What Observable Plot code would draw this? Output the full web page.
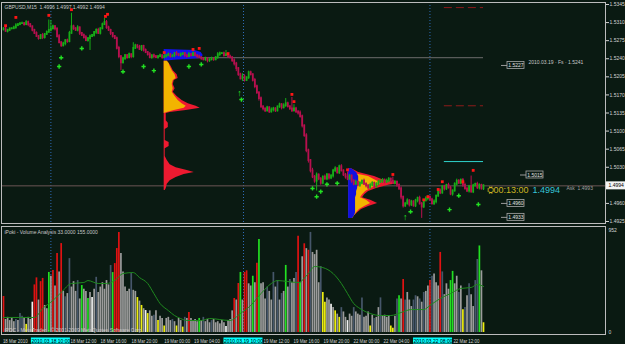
<!DOCTYPE html>
<html><head><meta charset="utf-8">
<script src="https://cdn.jsdelivr.net/npm/d3@7"></script>
<script src="https://cdn.jsdelivr.net/npm/@observablehq/plot@0.6"></script>
<style>
html,body{margin:0;padding:0;background:#0a1a12;overflow:hidden}
#chart{position:relative;width:625px;height:344px;background:#0a1a12}
#chart svg{position:absolute;left:0;top:0}
</style></head><body><div id="chart"></div>
<script>
// ---------------- DATA ----------------
const symbolTitle = "GBPUSD,M15  1.4996 1.4997 1.4992 1.4994";
const volumeTitle = "iPoki - Volume Analysis 33.0000 155.0000";
const copyright = "iPDC - MetaTrader - \u00a9 2001-2009 MetaQuotes Software Corp.";
const firstOpen = 1.5296;
const closes = [
1.5298,1.5293,1.5295,1.5298,1.5298,1.5300,1.5304,1.5306,1.5308,1.5308,
1.5306,1.5310,1.5306,1.5302,1.5295,1.5289,1.5283,1.5279,1.5285,1.5281,
1.5287,1.5291,1.5295,1.5298,1.5302,1.5298,1.5283,1.5271,1.5265,1.5269,
1.5275,1.5273,1.5289,1.5302,1.5298,1.5295,1.5300,1.5289,1.5285,1.5281,
1.5275,1.5279,1.5283,1.5285,1.5291,1.5295,1.5289,1.5298,1.5306,1.5310,
1.5300,1.5295,1.5289,1.5283,1.5279,1.5260,1.5244,1.5232,1.5240,1.5246,
1.5242,1.5248,1.5244,1.5260,1.5265,1.5262,1.5258,1.5264,1.5256,1.5252,
1.5248,1.5242,1.5246,1.5244,1.5242,1.5244,1.5246,1.5242,1.5244,1.5246,
1.5248,1.5244,1.5246,1.5250,1.5248,1.5246,1.5248,1.5250,1.5246,1.5244,
1.5248,1.5246,1.5250,1.5246,1.5244,1.5242,1.5240,1.5238,1.5240,1.5236,
1.5238,1.5240,1.5238,1.5242,1.5248,1.5250,1.5250,1.5246,1.5248,1.5244,
1.5242,1.5236,1.5230,1.5221,1.5209,1.5201,1.5205,1.5198,1.5203,1.5213,
1.5209,1.5198,1.5186,1.5174,1.5163,1.5147,1.5143,1.5139,1.5145,1.5137,
1.5141,1.5143,1.5139,1.5147,1.5151,1.5145,1.5149,1.5153,1.5147,1.5143,
1.5139,1.5143,1.5137,1.5135,1.5128,1.5110,1.5091,1.5062,1.5043,1.5023,
1.5011,1.5003,1.5015,1.5007,1.4999,1.5011,1.5007,1.5015,1.5009,1.5013,
1.5023,1.5027,1.5019,1.5031,1.5023,1.5015,1.5011,1.5007,1.5013,1.5003,
1.4997,1.5001,1.4995,1.4999,1.5003,1.4997,1.4994,1.4990,1.4995,1.4999,
1.4992,1.4997,1.5001,1.5003,1.5005,1.5001,1.5003,1.5007,1.5003,1.4999,
1.5001,1.4995,1.4988,1.4972,1.4955,1.4959,1.4965,1.4957,1.4963,1.4955,
1.4965,1.4970,1.4959,1.4953,1.4965,1.4969,1.4972,1.4967,1.4959,1.4963,
1.4974,1.4984,1.4980,1.4992,1.4988,1.4995,1.4990,1.4978,1.4984,1.4997,
1.5003,1.4999,1.5005,1.4995,1.4988,1.4984,1.4992,1.4982,1.4994,1.4997,
1.4990,1.4995,1.4988,1.4994];
// wick lengths beyond the candle body, in pips
const hiWick = [
2,3,2,1,2,3,4,2,1,3,2,4,3,2,1,2,3,2,1,4,
2,3,20,16,3,2,1,4,2,3,2,3,4,26,3,2,4,1,2,3,
4,2,3,2,1,3,4,2,3,8,4,3,2,1,2,3,4,2,3,2,
2,3,1,11,3,2,4,1,2,3,2,4,1,3,2,2,3,1,4,2,
3,2,1,2,4,2,3,1,2,3,4,2,3,1,2,3,2,1,3,2,
2,3,1,2,4,3,2,3,8,2,3,2,4,3,2,3,6,4,2,3,
3,2,4,3,2,3,2,1,3,2,4,3,2,1,3,2,4,10,3,2,
22,8,3,2,4,3,2,4,3,2,5,3,4,2,3,2,4,3,2,3,
3,4,2,3,4,2,3,10,3,2,3,4,2,3,2,4,3,2,4,3,
2,3,4,2,3,2,4,3,2,8,3,2,3,4,2,3,4,2,3,2,
3,2,4,3,2,4,3,2,3,4,2,3,4,2,3,2,4,3,2,3,
4,3,2,3,4,2,3,21,3,2,4,3,2,2];
const loWick = [
2,1,3,2,2,1,3,2,2,1,3,2,4,2,3,2,1,3,2,4,
3,2,1,3,2,4,3,2,3,2,4,3,2,1,3,2,3,4,2,3,
2,3,23,2,3,4,2,3,2,1,3,2,4,3,2,3,4,15,2,3,
3,2,4,3,2,3,2,4,3,2,3,2,3,4,2,3,2,3,2,3,
2,3,2,4,3,2,3,2,4,3,2,3,2,3,4,2,3,2,3,4,
3,2,3,2,3,4,2,3,2,3,2,3,4,6,3,2,5,3,2,3,
2,3,4,3,5,3,4,3,2,3,2,4,3,2,3,4,2,3,2,3,
3,2,3,4,3,4,3,4,5,4,3,4,19,3,4,3,2,3,4,3,
4,3,2,3,2,3,4,3,2,4,3,2,3,4,3,2,4,3,2,3,
3,2,3,2,4,3,2,3,4,2,3,4,3,5,4,3,2,4,3,2,
3,4,2,22,3,2,4,3,2,3,4,2,3,2,4,3,2,3,4,2,
3,2,3,4,2,3,4,2,3,2,3,4,2,3];
const volumes = [
333,120,140,110,130,100,120,110,175,150,
130,75,140,120,280,440,505,300,470,500,
250,220,555,520,573,430,730,560,822,380,
330,360,683,420,470,380,480,310,434,400,
380,314,370,323,400,510,370,420,460,400,
480,440,619,554,637,776,924,730,560,420,
380,400,545,390,380,323,290,250,220,203,
175,200,150,160,200,110,150,130,60,130,
140,110,120,100,60,130,110,50,140,130,
185,130,110,120,100,130,110,140,100,120,
90,110,120,90,100,80,110,90,55,110,
120,200,314,300,453,555,300,555,570,450,
430,520,460,640,860,450,460,310,420,380,
300,555,420,480,300,360,380,620,420,490,
460,500,555,890,460,700,820,775,760,925,
740,720,760,460,610,370,280,320,300,260,
230,200,170,140,230,190,140,110,170,150,
230,190,170,160,320,140,150,190,60,160,
130,140,230,320,150,160,140,150,60,40,
150,310,340,310,490,300,370,300,240,300,
340,330,310,280,370,380,430,480,520,540,
460,430,740,560,350,450,400,480,565,450,
520,370,430,210,230,340,450,350,240,480,
675,800,570,90];
// r=red, g=green, y=yellow, w=white, s=grey, d=dark slate
const volumeKinds = ("rsssssdsdd sysswrrsrr ssgsrsrsrs dsdsssdsgs sgswsdssss ssdgrrrsss ssdssysysw " +
  "yssdsyssys ssdsyssyds rssssgsdss sdssssssws ssrsrgsrrs sgsrgsssds sdsdsdsgsd ssdrgsrsrd " +
  "ssssdyyssw sysydsswss dsssdsssys dssdssssyy sdgsrdsssd dsdsdssrds ssrdsssggs sdsydsdssd dgsy").replace(/ /g, "");
const maBar = [0,15,19,24,28,33,39,41,46,50,54,58,63,66,70,73,76,80,83,86,89,96,100,110,115,120,125,130,133,138,143,148,151,155,160,164,167,170,173,178,183,188,193,198,204,207,212,217,222,227,230,233];
const maValue = [139,139,222,296,370,453,462,480,453,453,480,545,554,508,453,360,268,203,157,129,111,111,129,111,176,250,360,453,480,471,462,545,610,600,545,453,360,268,222,176,157,157,185,212,212,250,314,360,407,416,444,425];

const priceTicks = [1.5345,1.5310,1.5275,1.5240,1.5205,1.5170,1.5135,1.5100,1.5065,1.5030,1.4960,1.4925];
const lastPrice = 1.4994;
const fsLevel = 1.5242;
const dashedLevels = [1.5339, 1.5149];
const cyanLevel = 1.5041;
const boxLevels = [1.5227, 1.5015, 1.4960, 1.4933];
const fsText = "2010.03.19 \u00b7 Fs \u00b7 1.5241";
const timerText = "\u26ed00:13:00";
const timerPrice = "1.4994";
const spreadText = "Ask  1.4993";
const volumeMaxLabel = "952";
const volumeMinLabel = "0";

const timeLabelText = ["18 Mar 2010","18 Mar 12:00","18 Mar 16:00","18 Mar 20:00","19 Mar 00:00","19 Mar 04:00","19 Mar 12:00","19 Mar 16:00","19 Mar 20:00","22 Mar 00:00","22 Mar 04:00","22 Mar 12:00"];
const timeLabelBar = [-0.3,32.5,47.1,62.1,78,92.5,126.2,140.8,155.3,169.9,184.5,218.4];
const cursorBar = [23, 116.5, 207];
const cursorBoxBar = [23, 116.5, 208.5];
const cursorText = ["2010.03.18 10:00","2010.03.19 10:00","2010.03.22 08:00"];

// market profiles (price level, width in bars)
const profile1Anchor = 78;
const profile1Price = [1.5235,1.5231,1.5225,1.5217,1.5209,1.5202,1.5198,1.5190,1.5182,1.5175,1.5167,1.5159,1.5153,1.5148,1.5144,1.5140,1.5136,1.5134,1.5120,1.5115,1.5107,1.5103,1.5082,1.5078,1.5070,1.5066,1.5051,1.5043,1.5035,1.5029,1.5024,1.5020,1.5016,1.5010,1.5004,1.4997,1.4989,1.4985];
const profile1Total = [1.5,2.4,3.4,4.4,6.3,6.8,4.9,4.4,5.3,4.4,6.3,8.7,11.7,15.5,17.5,10.7,2.9,1,1,2,2,0.5,0.5,2.4,2.4,0.5,0.5,1.5,2.9,5.8,10.7,14.6,9.7,5.8,2.9,1.5,1,0.5];
const profile1Value = [1.5,2.4,2.9,3.9,5.3,5.8,4.4,3.9,4.4,3.9,5.3,6.8,8.7,10.7,9.7,4.9,1.5,0,0,0,0,0,0,0,0,0,0,0,0,0,0,0,0,0,0,0,0,0];
const profile1BluePrice = [1.5258,1.5256,1.5252,1.5246,1.5240,1.5237,1.5235];
const profile1BlueWidth = [0,15,18,19,17,5,0];
const profile2Anchor = 167.5;
const profile2Price = [1.5027,1.5020,1.5012,1.5006,1.5002,1.4998,1.4995,1.4989,1.4983,1.4977,1.4971,1.4966,1.4960,1.4954,1.4948,1.4942,1.4936,1.4931];
const profile2Total = [1.5,4.9,12.6,16.5,21.4,23.8,19.4,13.6,9.7,7.8,6.8,10.7,14.1,9.7,6.3,4.4,2.9,1.9];
const profile2Value = [0,0,9.7,12.6,14.6,15.5,14.6,10.7,8.3,6.8,5.8,8.7,10.7,7.8,5.3,3.9,2.9,1.9];
const profile2Blue = [1.5,3.9,4.9,4.9,4.9,4.4,4.4,4.4,3.9,3.9,3.4,3.4,3.4,3.4,3.4,3.4,2.9,1.9];

// fractal / signal markers
const upFractalBar = [1,6,22,33,49.5,50.5,78,92,95,109,140,141,167,189,204,206,211,213,223,228];
const upFractalPrice = [1.5304,1.5320,1.5324,1.5335,1.5322,1.5326,1.5252,1.5258,1.5260,1.5250,1.5171,1.5157,1.5025,1.5016,1.4967,1.4973,1.4987,1.5002,1.5002,1.5024];
const downFractalBar = [27,28,38,58,68,73,90,96,115.5,150,152,154,157,162,197.6,216.5,221,230.5];
const downFractalPrice = [1.5225,1.5242,1.5260,1.5215,1.5225,1.5217,1.5225,1.5229,1.5161,1.4989,1.4973,1.4983,1.4997,1.4999,1.4944,1.4948,1.4975,1.4958];
const arrowBar = [114.5, 195];
const arrowPrice = [1.5173, 1.4933];

// ---------------- BUILD ----------------
const N = closes.length;
const xDomain = [0, N - 1], xRange = [3, 483];
const priceDomain = [1.4925, 1.5345], priceRange = [221, 4];
const xBar = d3.scaleLinear(xDomain, xRange);
const yPx = d3.scaleLinear(priceDomain, priceRange);
const FONT = "'Liberation Sans',Arial,sans-serif";
const BG = "#0a1a12";
const UP = "#17ad17", DN = "#b8104f";
const volColor = {r:"#e01212", g:"#22e022", y:"#eeee10", w:"#f2f2f2", s:"#9c9c9c", d:"#46566a"};

const bars = closes.map((c, i) => {
  const o = i ? closes[i - 1] : firstOpen;
  return {i, o, c, hi: Math.max(o, c) + hiWick[i] * 1e-4, lo: Math.min(o, c) - loWick[i] * 1e-4, up: c >= o};
});
const vols = volumes.map((v, i) => ({i, v, k: volumeKinds[i]}));
const ma = maBar.map((b, j) => ({i: b, v: maValue[j]}));
const p1 = profile1Price.map((p, j) => ({p, t: profile1Total[j], v: profile1Value[j]}));
const p1b = profile1BluePrice.map((p, j) => ({p, w: profile1BlueWidth[j]}));
const p2 = profile2Price.map((p, j) => ({p, t: profile2Total[j], v: profile2Value[j], b: profile2Blue[j]}));
const upF = upFractalBar.map((b, j) => ({i: b, p: upFractalPrice[j]}));
const dnF = downFractalBar.map((b, j) => ({i: b, p: downFractalPrice[j]}));
const arrows = arrowBar.map((b, j) => ({i: b, p: arrowPrice[j]}));

const common = {width: 625, height: 344, color: {type: "identity"},
  style: {background: "transparent", overflow: "visible", fontFamily: FONT, fontSize: "5px"}};

const pricePlot = Plot.plot({
  ...common,
  marginTop: 2, marginLeft: 1, marginRight: 20, marginBottom: 344 - 223,
  x: {domain: xDomain, range: xRange, axis: null},
  y: {domain: priceDomain, range: priceRange, axis: null},
  marks: [
    Plot.ruleX(cursorBar, {stroke: "#2e6cb8", strokeDasharray: "1,2"}),
    Plot.ruleY([lastPrice], {stroke: "#6b5454"}),
    Plot.ruleY([fsLevel], {x1: profile1Anchor, x2: N - 1, stroke: "#6c6c6c"}),
    Plot.ruleY(dashedLevels, {x1: 214, x2: N - 1, stroke: "#8e1a1a", strokeDasharray: "8,4"}),
    Plot.ruleY([cyanLevel], {x1: 214, x2: N - 1, stroke: "#2fd4cc"}),
    // profile 1
    Plot.areaX(p1b, {y: "p", x1: profile1Anchor, x2: d => profile1Anchor + d.w, fill: "#1212ee"}),
    Plot.areaX(p1, {y: "p", x1: profile1Anchor, x2: d => profile1Anchor + d.t, fill: "#ee1a30"}),
    Plot.areaX(p1, {y: "p", x1: profile1Anchor, x2: d => profile1Anchor + d.v, fill: "#f2b400"}),
    // profile 2
    Plot.areaX(p2, {y: "p", x1: profile2Anchor, x2: d => profile2Anchor + d.t, fill: "#ee1a30"}),
    Plot.areaX(p2, {y: "p", x1: profile2Anchor, x2: d => profile2Anchor + d.v, fill: "#f2b400"}),
    Plot.areaX(p2, {y: "p", x1: profile2Anchor, x2: d => profile2Anchor + d.b, fill: "#1010e0"}),
    // candles
    Plot.ruleX(bars, {x: "i", y1: "lo", y2: "hi", stroke: d => d.up ? UP : DN, strokeWidth: 1}),
    Plot.ruleX(bars, {x: "i", y1: "o", y2: "c", stroke: d => d.up ? UP : DN, strokeWidth: 1.8, strokeLinecap: "square"}),
    Plot.dot(upF, {x: "i", y: "p", symbol: "square", r: 1.6, fill: "#ff1515"}),
    Plot.dot(dnF, {x: "i", y: "p", symbol: "cross", r: 1.8, fill: "#22e022"}),
    Plot.text(arrows, {x: "i", y: "p", text: () => "\u2191", fill: "#22e022", fontSize: 9, fontWeight: "bold"}),
    Plot.frame({stroke: "#bcbcbc"}),
    Plot.axisY({anchor: "right", ticks: priceTicks, tickFormat: d3.format(".4f"), tickSize: 3, tickPadding: 1, fontSize: 5, color: "#d4d4d4"})
  ]
});

const volumePlot = Plot.plot({
  ...common,
  marginTop: 226, marginLeft: 1, marginRight: 20, marginBottom: 10,
  x: {domain: xDomain, range: xRange, axis: null},
  y: {domain: [0, 952], range: [332, 229], axis: null},
  marks: [
    Plot.ruleX(cursorBar, {stroke: "#2e6cb8", strokeDasharray: "1,2"}),
    Plot.ruleX(vols, {x: "i", y1: 0, y2: "v", stroke: d => volColor[d.k], strokeWidth: 1.7}),
    Plot.line(ma, {x: "i", y: "v", stroke: "#1f8a1f", strokeWidth: 1, curve: "monotone-x"}),
    Plot.frame({stroke: "#bcbcbc"})
  ]
});

// chrome layer in page pixels
const boxes = boxLevels.map((p, j) => ({x: [507, 526, 507, 507][j], y: yPx(p), t: d3.format(".4f")(p)}));
const timeLabels = timeLabelText.map((t, j) => ({x: xBar(timeLabelBar[j]), t}));
const cursors = cursorText.map((t, j) => ({x: xBar(cursorBoxBar[j]), t}));
const chromePlot = Plot.plot({
  ...common,
  margin: 0,
  x: {domain: [0, 625], range: [0, 625], axis: null},
  y: {domain: [0, 344], range: [0, 344], axis: null},
  marks: [
    Plot.text([symbolTitle], {x: 4, y: 6.5, textAnchor: "start", fill: "#c8c8c8"}),
    Plot.text([volumeTitle], {x: 4, y: 231.5, textAnchor: "start", fill: "#c8c8c8"}),
    Plot.text([copyright], {x: 4, y: 329.5, textAnchor: "start", fill: "#c8c8c8"}),
    Plot.text([volumeMaxLabel], {x: 608, y: 229.5, textAnchor: "start", fill: "#d4d4d4"}),
    Plot.text([volumeMinLabel], {x: 608, y: 332, textAnchor: "start", fill: "#d4d4d4"}),
    Plot.text(timeLabels, {x: "x", y: 340.5, text: "t", textAnchor: "start", fill: "#d4d4d4", className: "tl"}),
    Plot.rect(cursors, {x1: d => d.x - 19.5, x2: d => d.x + 19.5, y1: 337.5, y2: 343.5, fill: "#00ffff"}),
    Plot.text(cursors, {x: "x", y: 340.5, text: "t", fill: "#000"}),
    Plot.ruleY(boxes, {y: "y", x1: d => d.x - 6, x2: "x", stroke: "#9a9a9a"}),
    Plot.rect(boxes, {x1: "x", x2: d => d.x + 17, y1: d => d.y - 3.5, y2: d => d.y + 3.5, fill: BG, stroke: "#a8a8a8", strokeWidth: 0.8}),
    Plot.text(boxes, {x: d => d.x + 8.5, y: "y", text: "t", fill: "#e0e0e0"}),
    Plot.text([fsText], {x: 528, y: 62, textAnchor: "start", fill: "#c8c8c8"}),
    Plot.text([timerText], {x: 486, y: yPx(lastPrice) + 4, textAnchor: "start", fill: "#cdb523", fontSize: 9}),
    Plot.text([timerPrice], {x: 532, y: yPx(lastPrice) + 4, textAnchor: "start", fill: "#36c4d8", fontSize: 9}),
    Plot.text([spreadText], {x: 566, y: yPx(lastPrice) + 3, textAnchor: "start", fill: "#a0a0a0"}),
    Plot.rect([lastPrice], {x1: 606, x2: 625, y1: d => yPx(d) - 4, y2: d => yPx(d) + 4, fill: "#f4f4f4"}),
    Plot.text([lastPrice], {x: 608, y: d => yPx(d), text: d => d3.format(".4f")(d), textAnchor: "start", fill: "#000"})
  ]
});

const root = document.getElementById("chart");
root.append(pricePlot, volumePlot, chromePlot);
// slightly narrow the time-axis labels, like MetaTrader's condensed font
for (const t of root.querySelectorAll(".tl text")) {
  const w = t.getComputedTextLength();
  if (w > 0) { t.setAttribute("textLength", (w * 0.88).toFixed(2)); t.setAttribute("lengthAdjust", "spacingAndGlyphs"); }
}
</script></body></html>
